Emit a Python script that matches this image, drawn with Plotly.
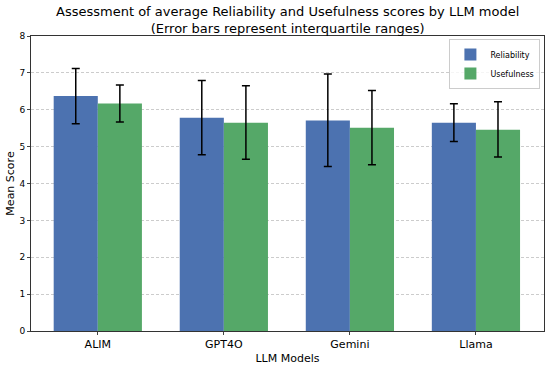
import plotly.graph_objects as go

models = ["ALIM", "GPT4O", "Gemini", "Llama"]
reliability = [6.37, 5.78, 5.71, 5.65]
rel_upper = [7.12, 6.79, 6.97, 6.16]
rel_lower = [5.62, 4.78, 4.46, 5.14]
usefulness = [6.17, 5.65, 5.51, 5.46]
use_upper = [6.67, 6.65, 6.52, 6.22]
use_lower = [5.67, 4.66, 4.51, 4.72]

xs = list(range(len(models)))
w = 0.35

fig = go.Figure()
fig.add_trace(go.Bar(
    x=[x - w / 2 for x in xs], y=reliability, width=w, name="Reliability",
    marker=dict(color="#4C72B0", line=dict(width=0)),
    error_y=dict(type="data", symmetric=False,
                 array=[u - v for u, v in zip(rel_upper, reliability)],
                 arrayminus=[v - l for v, l in zip(reliability, rel_lower)],
                 color="black", thickness=1.5, width=4),
))
fig.add_trace(go.Bar(
    x=[x + w / 2 for x in xs], y=usefulness, width=w, name="Usefulness",
    marker=dict(color="#55A868", line=dict(width=0)),
    error_y=dict(type="data", symmetric=False,
                 array=[u - v for u, v in zip(use_upper, usefulness)],
                 arrayminus=[v - l for v, l in zip(usefulness, use_lower)],
                 color="black", thickness=1.5, width=4),
))

fig.update_layout(
    width=550, height=367,
    margin=dict(l=31, r=6, t=36, b=36),
    paper_bgcolor="white", plot_bgcolor="white",
    font=dict(family="DejaVu Sans", size=9, color="black"),
    barmode="overlay",
    title=dict(text="Assessment of average Reliability and Usefulness scores by LLM model<br>(Error bars represent interquartile ranges)",
               x=0.523, xanchor="center", y=0.956, yanchor="middle",
               font=dict(size=13)),
    showlegend=True,
    legend=dict(x=0.993, y=0.99, xanchor="right", yanchor="top",
                bordercolor="#cccccc", borderwidth=1, bgcolor="rgba(255,255,255,0.8)",
                font=dict(size=8), tracegroupgap=0, itemwidth=30),
    xaxis=dict(range=[-0.53, 3.54], tickvals=xs, ticktext=models,
               tickfont=dict(size=11), ticks="outside", ticklen=3,
               showline=True, linecolor="#333333", linewidth=1, mirror=True,
               showgrid=False, zeroline=False, automargin=False,
               title=dict(text="LLM Models", font=dict(size=11), standoff=4)),
    yaxis=dict(range=[0, 8], dtick=1, ticks="outside", ticklen=3,
               showline=True, linecolor="#333333", linewidth=1, mirror=True,
               showgrid=True, gridcolor="#cccccc", griddash="3px,2px", gridwidth=1,
               zeroline=False, automargin=False,
               title=dict(text="Mean Score", font=dict(size=11), standoff=2)),
)

fig.write_html("out.html", config={"displayModeBar": False},
               post_script="document.body.style.margin='0';")
